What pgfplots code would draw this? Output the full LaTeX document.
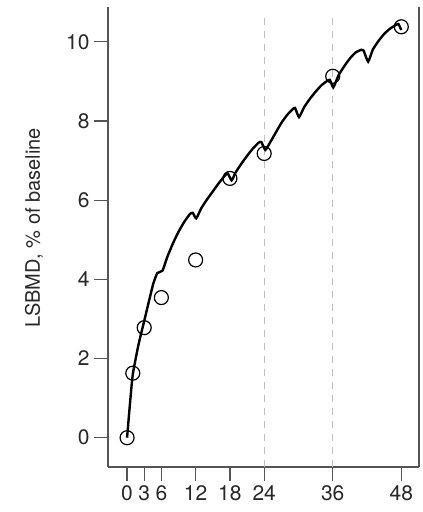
\documentclass[border=0pt]{standalone}
\usepackage{fontspec}
\setmainfont{TeX Gyre Heros}
\usepackage{pgfplots}
\pgfplotsset{compat=1.18}
\definecolor{axc}{RGB}{85,85,85}
\definecolor{txt}{RGB}{40,40,40}
\begin{document}
\begin{tikzpicture}
\begin{axis}[
  scale only axis,
  width=311pt, height=460pt,
  xmin=-3.34, xmax=51.1,
  ymin=-0.74, ymax=10.88,
  axis x line*=bottom, axis y line*=left,
  axis line style={axc, line width=1.3pt},
  every tick/.style={axc, line width=1.3pt},
  tick align=outside,
  major tick length=14pt,
  xtick={0,3,6,12,18,24,36,48},
  ytick={0,2,4,6,8,10},
  /pgf/number format/assume math mode=true,
  tick label style={font=\fontsize{21}{24}\selectfont, text=txt},
  xticklabel style={yshift=-1pt},
  yticklabel style={xshift=-1pt},
  ylabel={LSBMD, \% of baseline},
  ylabel style={font=\fontsize{20}{24}\selectfont, text=txt, at={(axis description cs:-0.238,0.52)}, anchor=center},
  clip=false,
]
% dashed reference lines
\addplot[gray!50, line width=1.1pt, dash pattern=on 7pt off 6pt] coordinates {(24,-0.74) (24,10.7)};
\addplot[gray!50, line width=1.1pt, dash pattern=on 7pt off 6pt] coordinates {(36,-0.74) (36,10.7)};
% right border
\draw[axc, line width=1.3pt] (rel axis cs:1,0) -- (rel axis cs:1,1);
% model curve
\addplot[black, line width=2.4pt, smooth, tension=0.3] coordinates {
 (0,0) (0.5,0.85) (1,1.6) (2,2.35) (3,2.95) (4,3.55) (4.6,3.9) (5.3,4.16) (6.2,4.22)
 (7,4.55) (8,4.9) (9,5.2) (10,5.45) (11,5.65) (11.5,5.68) (12.1,5.54)
 (13,5.8) (14,6.02) (15,6.22) (16,6.42) (17,6.6) (17.6,6.68) (18.3,6.5)
 (19,6.7) (20,6.92) (21,7.12) (22,7.3) (23,7.45) (23.5,7.47) (24.2,7.27)
 (25,7.45) (26,7.7) (27,7.95) (28,8.15) (29,8.3) (29.4,8.33) (30.1,8.1)
 (31,8.35) (32,8.56) (33,8.74) (34,8.9) (35,9.01) (35.5,9.04) (36.1,8.85)
 (37,9.15) (38,9.38) (39,9.58) (40,9.73) (41,9.8) (41.4,9.78) (42.2,9.5)
 (43,9.8) (44,10.02) (45,10.2) (46,10.33) (47,10.42) (47.5,10.45) (48,10.3)
};
% observed
\addplot[only marks, mark=o, mark size=7pt, mark options={line width=1.2pt, black}] coordinates {
 (0,0) (1,1.63) (3,2.78) (6,3.54) (12,4.49) (18,6.55) (24,7.18) (36,9.13) (48,10.38)
};
\end{axis}
\pgfresetboundingbox
\path (current axis.south west) ++(-108pt,-45pt) rectangle ++(423pt,512pt);
\end{tikzpicture}
\end{document}
